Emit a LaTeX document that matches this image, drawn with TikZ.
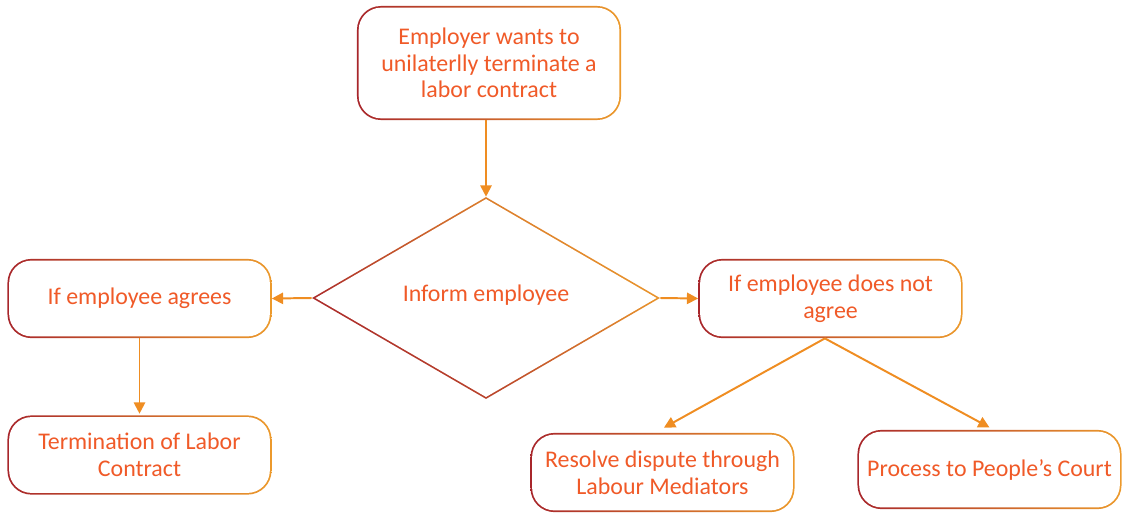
\documentclass[tikz,border=0pt]{standalone}
\usepackage{fontspec}
\setmainfont{Carlito}
\usepackage{xcolor}
\usetikzlibrary{shapes.geometric,arrows.meta}
\definecolor{bordred}{HTML}{A8262B}
\definecolor{bordorange}{HTML}{EC9A2C}
\definecolor{labeltext}{HTML}{F05A28}
\definecolor{arroworange}{HTML}{EF8D22}
\tikzset{
  flowbox/.style={rectangle, rounded corners=17pt, minimum width=6.6cm, minimum height=1.98cm,
    left color=bordred, right color=bordorange, text=labeltext, align=center,
    font=\fontsize{17}{19}\selectfont,
    path picture={\fill[white, rounded corners=16pt]
      ([shift={(1.2pt,1.2pt)}]path picture bounding box.south west) rectangle
      ([shift={(-1.2pt,-1.2pt)}]path picture bounding box.north east);}},
  flowdecision/.style={diamond, minimum width=8.7cm, minimum height=5.05cm,
    top color=bordred, bottom color=bordorange, shading angle=135, text=labeltext,
    font=\fontsize{17}{19}\selectfont,
    path picture={\fill[white]
      ([xshift=2.4pt]path picture bounding box.west) --
      ([yshift=-1.4pt]path picture bounding box.north) --
      ([xshift=-2.4pt]path picture bounding box.east) --
      ([yshift=1.4pt]path picture bounding box.south) -- cycle;}},
  flowarrow/.style={draw=arroworange, line width=1.4pt, -{Triangle[length=8pt,width=8pt]}}
}

\begin{document}
\begin{tikzpicture}[x=0.025cm, y=-0.025cm]
\useasboundingbox (0,0) rectangle (1128,513);

% boxes
\node[flowbox, minimum height=2.85cm] (employer) at (489,63) {Employer wants to\\unilaterlly terminate a\\labor contract};
\node[flowdecision] (inform) at (486,298) {};
\node[text=labeltext, font=\fontsize{17}{19}\selectfont] (informtext) at (486,295) {Inform employee};
\node[flowbox] (agrees) at (139.5,298.5) {If employee agrees};
\node[flowbox] (termination) at (139.5,455) {Termination of Labor\\Contract};
\node[flowbox] (notagree) at (830.5,298.5) {If employee does not\\agree};
\node[flowbox] (resolve) at (662.5,472.5) {Resolve dispute through\\Labour Mediators};
\node[flowbox] (court) at (989.5,469.5) {Process to People’s Court};

% arrows
\draw[flowarrow] (employer.south -| inform.north) -- (inform.north);
\draw[flowarrow] (inform.west) -- (agrees.east);
\draw[flowarrow] (inform.east) -- (notagree.west);
\draw[flowarrow] (agrees.south) -- ([yshift=1pt]termination.north);
\draw[flowarrow] ([xshift=-4pt]notagree.south) -- ([xshift=1pt,yshift=3.5pt]resolve.north);
\draw[flowarrow] ([xshift=-4pt]notagree.south) -- ([yshift=1.5pt]court.north);
\end{tikzpicture}
\end{document}
